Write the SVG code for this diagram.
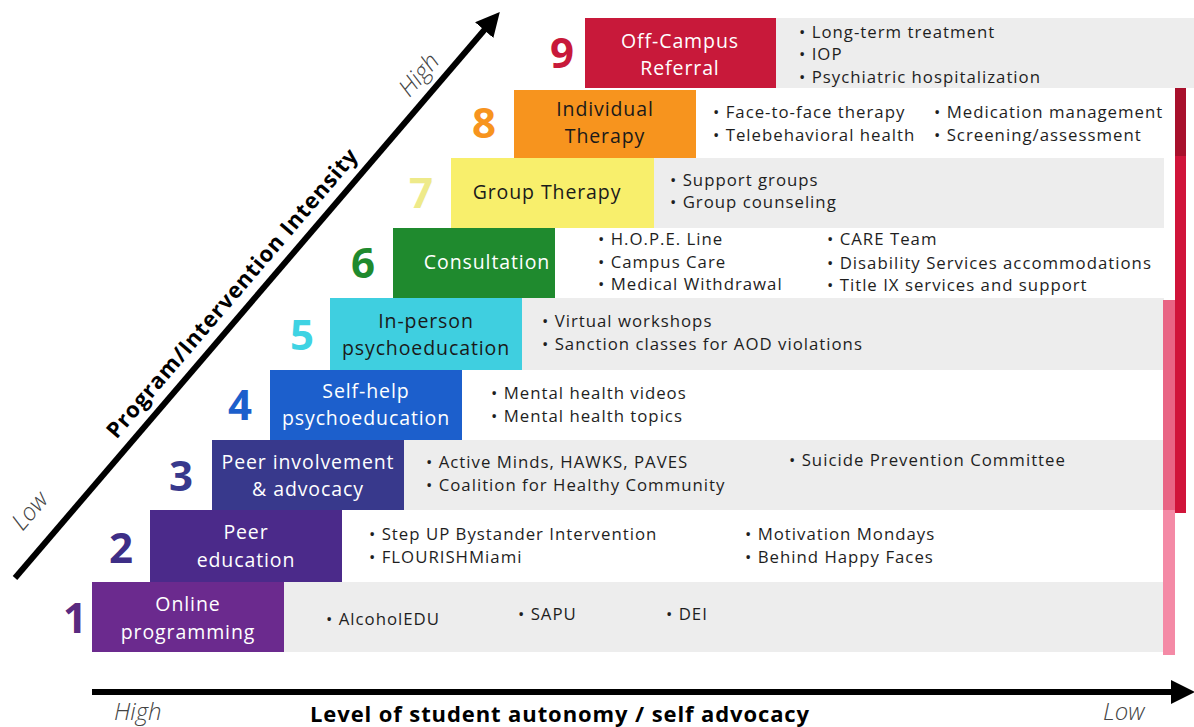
<svg xmlns="http://www.w3.org/2000/svg" width="1194" height="727" viewBox="0 0 1194 727">
<defs>
<style>
.lbl{font-family:"Open Sans","Noto Sans",sans-serif;font-size:19.5px;letter-spacing:0.9px;text-anchor:middle;fill:#ffffff}
.num{font-family:"Open Sans","Noto Sans",sans-serif;font-size:42px;font-weight:bold;text-anchor:middle}
.it{font-family:"Open Sans","Noto Sans",sans-serif;font-size:16.8px;letter-spacing:1px;fill:#1e1e1e}
.band{fill:#ededed}
.ax{font-family:"Open Sans","Noto Sans",sans-serif;font-size:24px;font-style:italic;fill:#444;font-weight:300}
.axb{font-family:"Open Sans","Noto Sans",sans-serif;font-size:22px;letter-spacing:0.9px;font-weight:bold;fill:#000}
</style>
<marker id="ah" viewBox="0 0 10 10" refX="5" refY="5" markerWidth="4" markerHeight="4" orient="auto" markerUnits="strokeWidth">
<path d="M0,0 L10,5 L0,10 Z" fill="#000"/>
</marker>
</defs>
<rect width="1194" height="727" fill="#ffffff"/>
<g id="bands">
<rect class="band" x="776" y="18" width="418" height="70"/>
<rect class="band" x="654" y="158" width="510" height="70"/>
<rect class="band" x="522" y="298" width="642" height="72"/>
<rect class="band" x="404" y="440" width="760" height="70"/>
<rect class="band" x="284" y="582" width="880" height="70"/>
</g>
<g id="sidebars">
<rect x="1163" y="300" width="12" height="355" fill="#f48aa6"/>
<rect x="1163" y="300" width="12" height="210" fill="#e96585"/>
<rect x="1175" y="88" width="11" height="425" fill="#d0143a"/>
<rect x="1175" y="88" width="11" height="68" fill="#a8102c"/>
</g>
<g id="connectors">
<line x1="15" y1="578" x2="492" y2="21" stroke="#000" stroke-width="6" marker-end="url(#ah)"/>
<line x1="92" y1="692" x2="1183" y2="692" stroke="#000" stroke-width="6" marker-end="url(#ah)"/>
</g>
<g id="axis-labels">
<text class="ax" x="114" y="720">High</text>
<text class="ax" x="1103" y="720">Low</text>
<text class="axb" x="560" y="722" text-anchor="middle">Level of student autonomy / self advocacy</text>
<text class="ax" transform="translate(425,80) rotate(-49.4)" text-anchor="middle">High</text>
<text class="ax" transform="translate(36,516) rotate(-49.4)" text-anchor="middle">Low</text>
<text class="axb" transform="translate(238,298) rotate(-49.4)" text-anchor="middle">Program/Intervention Intensity</text>
</g>
<g id="step1">
<rect x="92" y="582" width="192" height="70" fill="#6b2a8e"/>
<text class="num" x="75" y="633" fill="#5a2a80">1</text>
<text class="lbl" x="188" y="611">Online</text>
<text class="lbl" x="188" y="639">programming</text>
<text class="it" x="326" y="625">• AlcoholEDU</text>
<text class="it" x="518" y="620">• SAPU</text>
<text class="it" x="666" y="620">• DEI</text>
</g>
<g id="step2">
<rect x="150" y="510" width="192" height="72" fill="#4b2a8a"/>
<text class="num" x="121" y="563" fill="#3e2e86">2</text>
<text class="lbl" x="246" y="539">Peer</text>
<text class="lbl" x="246" y="567">education</text>
<text class="it" x="369" y="540">• Step UP Bystander Intervention</text>
<text class="it" x="369" y="563">• FLOURISHMiami</text>
<text class="it" x="745" y="540">• Motivation Mondays</text>
<text class="it" x="745" y="563">• Behind Happy Faces</text>
</g>
<g id="step3">
<rect x="212" y="440" width="192" height="70" fill="#38398c"/>
<text class="num" x="181" y="491" fill="#38398c">3</text>
<text class="lbl" x="308" y="469">Peer involvement</text>
<text class="lbl" x="308" y="496">&amp; advocacy</text>
<text class="it" x="426" y="468">• Active Minds, HAWKS, PAVES</text>
<text class="it" x="426" y="491">• Coalition for Healthy Community</text>
<text class="it" x="789" y="466">• Suicide Prevention Committee</text>
</g>
<g id="step4">
<rect x="270" y="370" width="192" height="70" fill="#1c5fcc"/>
<text class="num" x="240" y="420" fill="#1c5fcc">4</text>
<text class="lbl" x="366" y="398">Self-help</text>
<text class="lbl" x="366" y="425">psychoeducation</text>
<text class="it" x="491" y="399">• Mental health videos</text>
<text class="it" x="491" y="422">• Mental health topics</text>
</g>
<g id="step5">
<rect x="330" y="298" width="192" height="72" fill="#3fcfe0"/>
<text class="num" x="302" y="350" fill="#3fd3e3">5</text>
<text class="lbl" x="426" y="328" style="fill:#1a1a1a">In-person</text>
<text class="lbl" x="426" y="355" style="fill:#1a1a1a">psychoeducation</text>
<text class="it" x="542" y="327">• Virtual workshops</text>
<text class="it" x="542" y="350">• Sanction classes for AOD violations</text>
</g>
<g id="step6">
<rect x="393" y="228" width="162" height="70" fill="#1f8a2e"/>
<text class="num" x="363" y="278" fill="#1f8a2e">6</text>
<text class="lbl" x="487" y="269">Consultation</text>
<text class="it" x="598" y="245">• H.O.P.E. Line</text>
<text class="it" x="598" y="268">• Campus Care</text>
<text class="it" x="598" y="290">• Medical Withdrawal</text>
<text class="it" x="827" y="245">• CARE Team</text>
<text class="it" x="827" y="269">• Disability Services accommodations</text>
<text class="it" x="827" y="291">• Title IX services and support</text>
</g>
<g id="step7">
<rect x="451" y="158" width="203" height="70" fill="#f8ef6c"/>
<text class="num" x="421" y="208" fill="#eeea8a">7</text>
<text class="lbl" x="547" y="199" style="fill:#1a1a1a">Group Therapy</text>
<text class="it" x="670" y="186">• Support groups</text>
<text class="it" x="670" y="208">• Group counseling</text>
</g>
<g id="step8">
<rect x="514" y="90" width="182" height="68" fill="#f7941e"/>
<text class="num" x="484" y="138" fill="#f7941e">8</text>
<text class="lbl" x="605" y="116" style="fill:#1a1a1a">Individual</text>
<text class="lbl" x="605" y="143" style="fill:#1a1a1a">Therapy</text>
<text class="it" x="713" y="118">• Face-to-face therapy</text>
<text class="it" x="713" y="141">• Telebehavioral health</text>
<text class="it" x="934" y="118">• Medication management</text>
<text class="it" x="934" y="141">• Screening/assessment</text>
</g>
<g id="step9">
<rect x="585" y="18" width="191" height="70" fill="#c8193a"/>
<text class="num" x="562" y="68" fill="#c8193a">9</text>
<text class="lbl" x="680" y="48">Off-Campus</text>
<text class="lbl" x="680" y="75">Referral</text>
<text class="it" x="799" y="38">• Long-term treatment</text>
<text class="it" x="799" y="60">• IOP</text>
<text class="it" x="799" y="83">• Psychiatric hospitalization</text>
</g>
</svg>
